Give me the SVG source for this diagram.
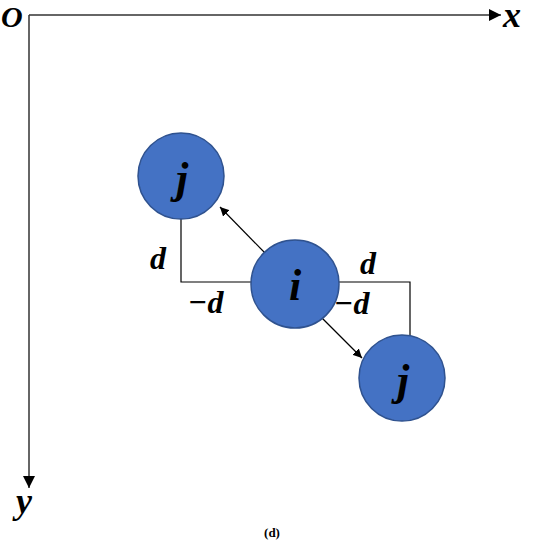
<svg xmlns="http://www.w3.org/2000/svg" width="550" height="545" viewBox="0 0 550 545">
<style>
.lbl{font-family:"Liberation Serif",serif;font-weight:bold;font-style:italic;fill:#000}
.node{fill:#4472C4;stroke:#2F528F;stroke-width:1.5}
.ax{stroke:#333;stroke-width:1.5;fill:none}
.ln{stroke:#000;stroke-width:1.2;fill:none}
</style>
<defs>
<marker id="big" viewBox="0 0 10 10" refX="10" refY="5" markerWidth="12" markerHeight="12" markerUnits="userSpaceOnUse" orient="auto"><path d="M0,0 L10,5 L0,10 z" fill="#000"/></marker>
<marker id="sm" viewBox="0 0 10 10" refX="10" refY="5" markerWidth="9" markerHeight="9" markerUnits="userSpaceOnUse" orient="auto"><path d="M0,0 L10,5 L0,10 z" fill="#000"/></marker>
</defs>
<rect width="550" height="545" fill="#fff"/>
<g id="axes">
<path class="ax" d="M29,15 H501" marker-end="url(#big)"/>
<path class="ax" d="M29,15 V488" marker-end="url(#big)"/>
<text class="lbl" x="1" y="27" font-size="30">O</text>
<text class="lbl" x="503" y="27" font-size="36">x</text>
<text class="lbl" x="16" y="513" font-size="36">y</text>
</g>
<g id="connectors">
<path class="ln" d="M181,219 V282 H252"/>
<path class="ln" d="M339,282 H410 V337"/>
<path class="ln" d="M265,253 L220,207" marker-end="url(#sm)"/>
<path class="ln" d="M320,316 L362,358" marker-end="url(#sm)"/>
<text class="lbl" x="150" y="269" font-size="32">d</text>
<text class="lbl" x="188" y="313" font-size="32">−d</text>
<text class="lbl" x="360" y="274" font-size="32">d</text>
<text class="lbl" x="334" y="314" font-size="32">−d</text>
</g>
<g id="node-j1">
<circle class="node" cx="181" cy="176" r="43"/>
<text class="lbl" x="182" y="193" font-size="44" text-anchor="middle">j</text>
</g>
<g id="node-i">
<circle class="node" cx="295" cy="284" r="44"/>
<text class="lbl" x="295" y="300" font-size="44" text-anchor="middle">i</text>
</g>
<g id="node-j2">
<circle class="node" cx="402" cy="378" r="43"/>
<text class="lbl" x="403" y="395" font-size="44" text-anchor="middle">j</text>
</g>
<text x="272" y="537" font-family="Liberation Serif,serif" font-weight="bold" font-size="13" text-anchor="middle">(d)</text>
</svg>
